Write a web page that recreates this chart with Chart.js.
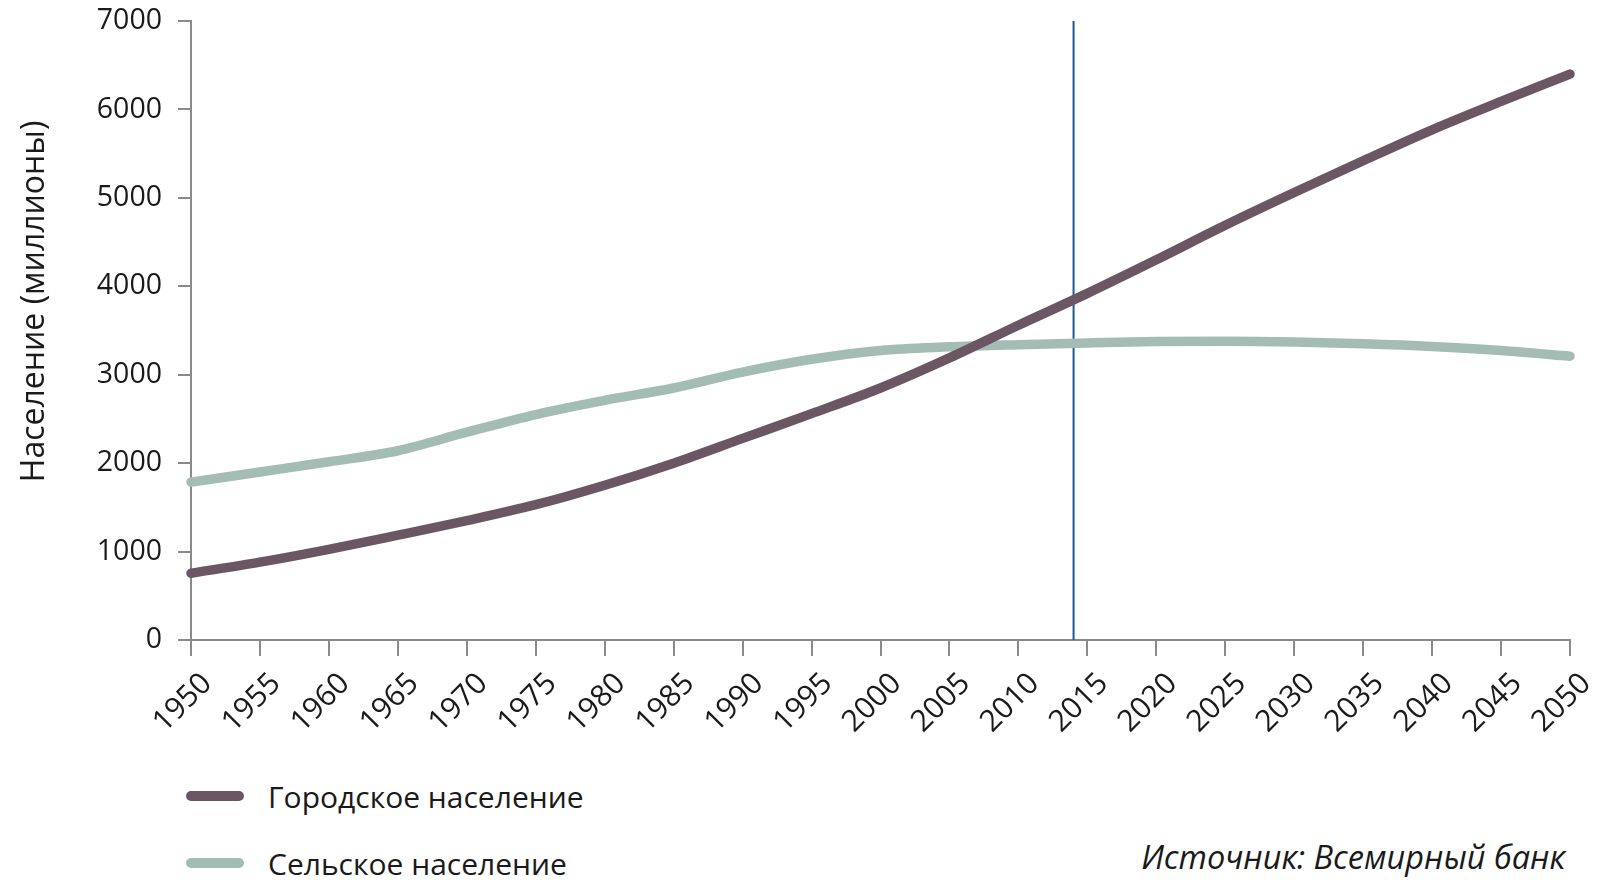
<!DOCTYPE html>
<html lang="ru">
<head>
<meta charset="utf-8">
<title>Городское и сельское население</title>
<script src="https://cdn.jsdelivr.net/npm/chart.js@4.4.1/dist/chart.umd.min.js"></script>
<style>
    html, body { margin: 0; padding: 0; background: #fff; }
    body { width: 1615px; height: 880px; position: relative; overflow: hidden;
           font-family: "Open Sans", sans-serif; color: #1a1a1a; }
    #wrap { position: absolute; left: 0; top: 0; width: 1615px; height: 740px; }
    .legend-row { position: absolute; left: 186px; height: 40px; display: flex; align-items: center; font-size: 30px; }
    .swatch { width: 58px; height: 10px; border-radius: 5px; margin-right: 24px; }
    #source { position: absolute; right: 50px; top: 837px; font-style: italic; font-size: 32.5px; line-height: 1.2; }
</style>
</head>
<body>
<div id="wrap"><canvas id="popChart"></canvas></div>
<div id="legend"></div>
<div id="source">Источник: Всемирный банк</div>

<script>
/* Urban vs rural world population, 1950–2050 (millions). */

const YEARS = [1950, 1955, 1960, 1965, 1970, 1975, 1980, 1985, 1990, 1995, 2000,
               2005, 2010, 2015, 2020, 2025, 2030, 2035, 2040, 2045, 2050];
const URBAN = [755, 880, 1025, 1185, 1350, 1530, 1750, 2000, 2280, 2560, 2850,
               3190, 3560, 3920, 4300, 4690, 5060, 5420, 5770, 6090, 6400];
const RURAL = [1785, 1900, 2015, 2140, 2350, 2550, 2710, 2850, 3030, 3175, 3275,
               3315, 3340, 3360, 3375, 3378, 3370, 3350, 3320, 3275, 3210];
const SERIES_NAMES = ['Городское население', 'Сельское население'];
const MARKER_YEAR = 2014;
const Y_MAX = 7000;

const COLOURS = { urban: '#6b5663', rural: '#a4bdb4', marker: '#1d5a90', axis: '#8a8a8a', text: '#1a1a1a' };
const FONT = 'Open Sans';

function toPoints(values) {
    return YEARS.map((y, i) => ({ x: y, y: values[i] }));
}

function lineSet(label, values, colour) {
    return {
        label, data: toPoints(values),
        borderColor: colour, backgroundColor: colour,
        borderWidth: 9.5, borderCapStyle: 'round', borderJoinStyle: 'round',
        pointRadius: 0, cubicInterpolationMode: 'monotone', clip: false,
    };
}

const ctx = document.getElementById('popChart');
new Chart(ctx, {
    type: 'line',
    data: {
        datasets: [
            lineSet(SERIES_NAMES[0], URBAN, COLOURS.urban),
            lineSet(SERIES_NAMES[1], RURAL, COLOURS.rural),
            {
                label: 'marker', data: [{ x: MARKER_YEAR, y: 0 }, { x: MARKER_YEAR, y: Y_MAX }],
                borderColor: COLOURS.marker, borderWidth: 2, pointRadius: 0,
            },
        ],
    },
    options: {
        responsive: true, maintainAspectRatio: false, animation: false,
        layout: { padding: { top: 21, right: 45, left: 0, bottom: 0 } },
        plugins: { legend: { display: false }, tooltip: { enabled: false } },
        scales: {
            x: {
                type: 'linear', min: YEARS[0], max: YEARS[YEARS.length - 1],
                border: { display: true, color: COLOURS.axis, width: 2 },
                grid: { drawOnChartArea: false, drawTicks: true, tickLength: 16, color: COLOURS.axis, lineWidth: 2 },
                ticks: {
                    stepSize: 5, autoSkip: false, minRotation: 45, maxRotation: 45,
                    padding: 10, labelOffset: 16,
                    color: COLOURS.text, font: { family: FONT, size: 30 },
                    callback: (v) => String(v),
                },
                afterFit: (s) => { s.height = 100; },
            },
            y: {
                min: 0, max: Y_MAX,
                border: { display: true, color: COLOURS.axis, width: 2 },
                grid: { drawOnChartArea: false, drawTicks: true, tickLength: 13, color: COLOURS.axis, lineWidth: 2 },
                ticks: {
                    stepSize: 1000, padding: 16,
                    color: COLOURS.text, font: { family: FONT, size: 28.5 },
                    callback: (v) => String(v),
                },
                title: {
                    display: true,
                    // leading spaces nudge the rotated title up, as in the original
                    text: '\u00a0'.repeat(7) + 'Население (миллионы)',
                    color: COLOURS.text,
                    font: { family: FONT, size: 32 }, padding: { top: 16, bottom: 0 },
                },
                afterFit: (s) => { s.width = 191; s.paddingTop = 0; },
            },
        },
    },
});

/* legend rows, stacked like the original */
const legendTops = [776, 843];
document.getElementById('legend').innerHTML = SERIES_NAMES.map((name, i) => `
    <div class="legend-row" style="top:${legendTops[i]}px">
        <span class="swatch" style="background:${i === 0 ? COLOURS.urban : COLOURS.rural}"></span>${name}
    </div>`).join('');
</script>
</body>
</html>
